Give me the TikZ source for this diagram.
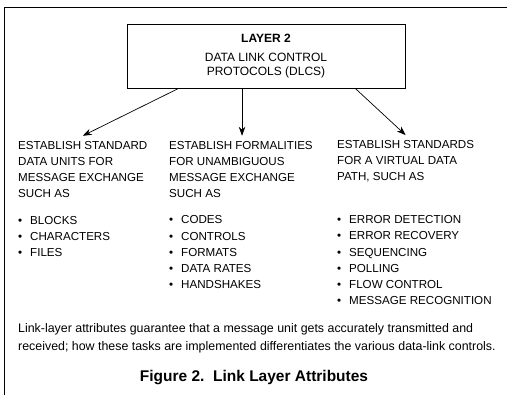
\documentclass[tikz,border=0pt]{standalone}
\usepackage{fontspec}
\setmainfont{Liberation Sans}
\usetikzlibrary{arrows.meta,positioning,calc}

\tikzset{
  colhead/.style={anchor=base west, align=left, inner xsep=0pt, inner ysep=5pt,
    font=\fontsize{11.6}{16.3}\selectfont},
  itemlist/.style={colhead, inner ysep=0pt},
  branch/.style={-{Stealth[length=9pt,width=6.5pt]}, line width=0.7pt},
}
\newcommand{\itm}{\makebox[12pt][l]{\textbullet}}

\begin{document}
\begin{tikzpicture}[x=1pt,y=-1pt]
  \useasboundingbox (0,0) rectangle (507,395);
  % frame, top and left edges only
  \draw[line width=0.8pt] (507,7) -- (4,7) -- (4,395);
  % layer box
  \node[draw, line width=0.6pt, minimum width=278pt, minimum height=64pt, align=center,
        font=\fontsize{12}{14}\selectfont] (dlc) at (266,56)
        {\textbf{LAYER 2}\\[5pt] DATA LINK CONTROL\\PROTOCOLS (DLCS)};
  % three columns (placed by the baseline of their last line)
  \node[colhead] (units) at (18,198) {ESTABLISH STANDARD\\DATA UNITS FOR\\MESSAGE EXCHANGE\\SUCH AS};
  \node[colhead] (formal) at (169,198) {ESTABLISH FORMALITIES\\FOR UNAMBIGUOUS\\MESSAGE EXCHANGE\\SUCH AS};
  \node[colhead] (path) at (337,181) {ESTABLISH STANDARDS\\FOR A VIRTUAL DATA\\PATH, SUCH AS};
  \node[itemlist] (unitlist) at (18,257) {\itm BLOCKS\\\itm CHARACTERS\\\itm FILES};
  \node[itemlist] (formallist) at (169,289) {\itm CODES\\\itm CONTROLS\\\itm FORMATS\\\itm DATA RATES\\\itm HANDSHAKES};
  \node[itemlist] (pathlist) at (337,305) {\itm ERROR DETECTION\\\itm ERROR RECOVERY\\\itm SEQUENCING\\\itm POLLING\\\itm FLOW CONTROL\\\itm MESSAGE RECOGNITION};
  % arrows from the box
  \coordinate (mid) at ($(dlc.south west)!0.414!(dlc.south east)$);
  \draw[branch] ($(dlc.south west)!0.187!(dlc.south east)$) -- (units.north);
  \draw[branch] (mid) -- (formal.north -| mid);
  \draw[branch] ($(dlc.south west)!0.82!(dlc.south east)$) -- (path.north);
  % note and caption
  \node[anchor=base west, align=left, inner sep=0pt, font=\fontsize{12.4}{18}\selectfont] (note) at (18,351)
    {Link-layer attributes guarantee that a message unit gets accurately transmitted and\\
     received; how these tasks are implemented differentiates the various data-link controls.};
  \node[anchor=base, inner sep=0pt, font=\fontsize{15.5}{18}\selectfont\bfseries] (caption) at (254,382)
    {Figure 2.\ \ Link Layer Attributes};
\end{tikzpicture}
\end{document}
